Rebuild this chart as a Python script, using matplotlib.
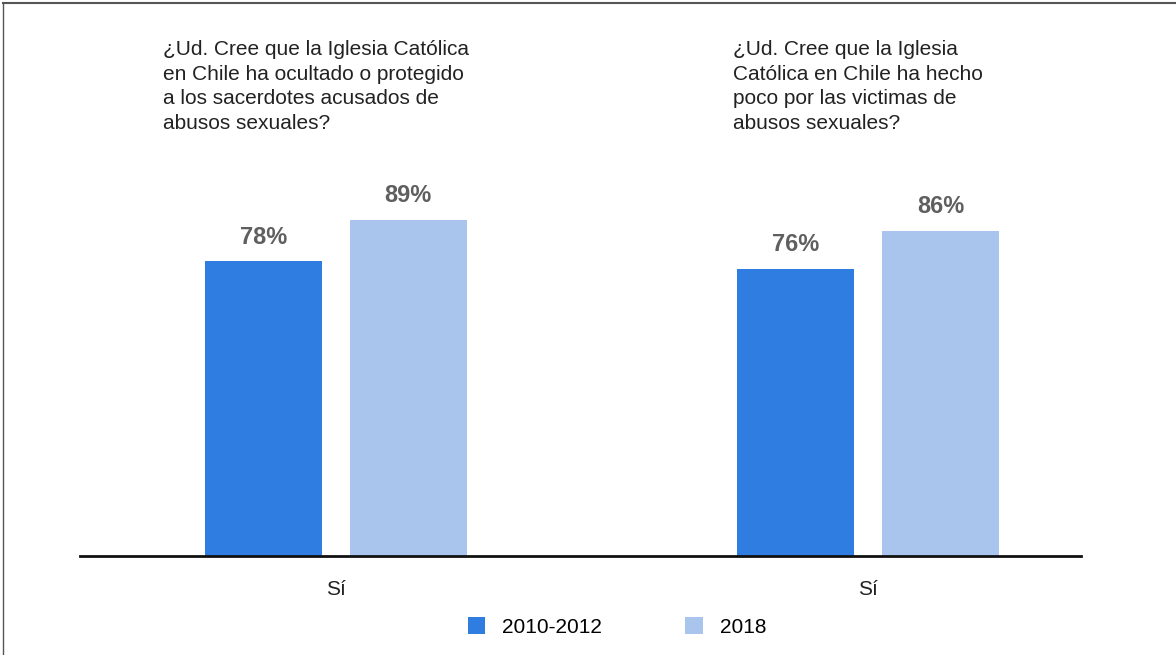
import matplotlib.pyplot as plt
from matplotlib.patches import Patch
from matplotlib.lines import Line2D

plt.rcParams['font.family'] = ['Liberation Sans', 'DejaVu Sans']

questions = [
    "¿Ud. Cree que la Iglesia Católica\nen Chile ha ocultado o protegido\na los sacerdotes acusados de\nabusos sexuales?",
    "¿Ud. Cree que la Iglesia\nCatólica en Chile ha hecho\npoco por las victimas de\nabusos sexuales?",
]
categories = ["Sí", "Sí"]
series_names = ["2010-2012", "2018"]
values_2010_2012 = [78, 76]
values_2018 = [89, 86]

colors = ['#2f7de1', '#a9c5ee']
W, H = 1176, 655

fig = plt.figure(figsize=(W / 100, H / 100), dpi=100)
ax = fig.add_axes([80 / W, 99 / H, 1001 / W, 378 / H])

x = list(range(len(categories)))
width = 0.22
offset = 0.136
bars1 = ax.bar([i - offset for i in x], values_2010_2012, width, color=colors[0], zorder=2)
bars2 = ax.bar([i + offset for i in x], values_2018, width, color=colors[1], zorder=2)

for bars in (bars1, bars2):
    for b in bars:
        ax.text(b.get_x() + b.get_width() / 2, b.get_height() + 3.3, f"{b.get_height():.0f}%",
                ha='center', va='bottom', fontsize=17, fontweight='bold', color='#5f5f5f')

ax.set_xlim(-0.481, 1.400)
ax.set_ylim(0, 100)
ax.set_xticks(x)
ax.set_xticklabels(categories, fontsize=15, color='#222222')
ax.tick_params(axis='x', length=0, pad=17)
ax.set_yticks([])
for s in ['top', 'right', 'left']:
    ax.spines[s].set_visible(False)
ax.spines['bottom'].set_linewidth(2)
ax.spines['bottom'].set_color('#111111')
ax.spines['bottom'].set_zorder(3)

# question titles above each group
fig.text(163 / W, 1 - 40 / H, questions[0], ha='left', va='top', fontsize=15,
         color='#222222', linespacing=1.37)
fig.text(733 / W, 1 - 40 / H, questions[1], ha='left', va='top', fontsize=15,
         color='#222222', linespacing=1.37)

handles = [Patch(facecolor=c, edgecolor='none') for c in colors]
fig.legend(handles, series_names, loc='center', bbox_to_anchor=(617 / W, 1 - 627 / H),
           ncol=2, frameon=False, fontsize=15, handlelength=0.85, handleheight=0.85,
           handletextpad=0.8, columnspacing=4.0)

# frame lines at top and left edge
fig.add_artist(Line2D([2.5 / W, 1], [1 - 3 / H, 1 - 3 / H], transform=fig.transFigure,
                      color='#555555', linewidth=1.5))
fig.add_artist(Line2D([2.5 / W, 2.5 / W], [0, 1 - 3 / H], transform=fig.transFigure,
                      color='#555555', linewidth=1.0))

fig.savefig('out.png', dpi=100)
